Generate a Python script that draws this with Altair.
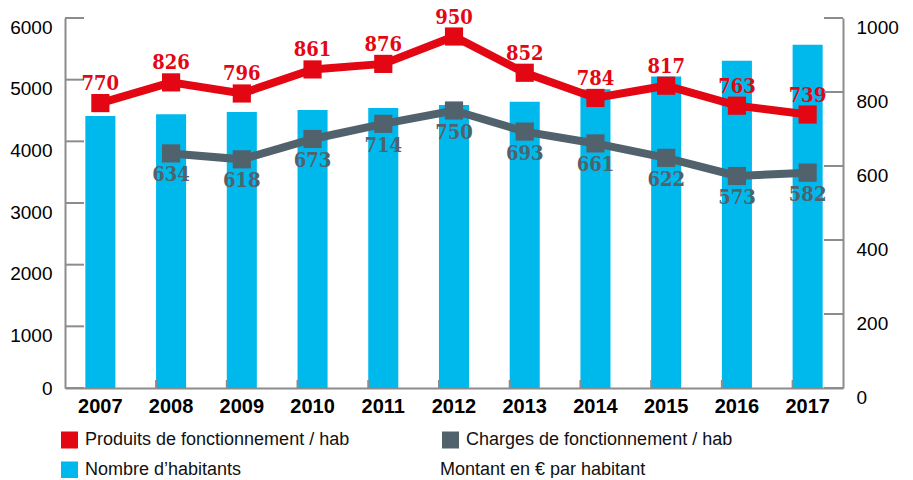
import altair as alt
import pandas as pd

years = ["2007", "2008", "2009", "2010", "2011", "2012", "2013", "2014", "2015", "2016", "2017"]
habitants = [4410, 4440, 4475, 4510, 4540, 4590, 4640, 4845, 5050, 5305, 5565]
produits = [770, 826, 796, 861, 876, 950, 852, 784, 817, 763, 739]
charges = [None, 634, 618, 673, 714, 750, 693, 661, 622, 573, 582]
left_ticks = [0, 1000, 2000, 3000, 4000, 5000, 6000]
right_ticks = [0, 200, 400, 600, 800, 1000]
series_names = ["Produits de fonctionnement / hab", "Charges de fonctionnement / hab"]
bar_name = "Nombre d\u2019habitants"
note = "Montant en \u20ac par habitant"

RED = "#E30613"
GREY = "#52626C"
BLUE = "#00B9EC"
AXIS = "#8C8C8C"
FONT = "Liberation Sans"
VFONT = "DejaVu Serif Condensed"

bars_df = pd.DataFrame({"year": years, "habitants": habitants})
rows = []
for y, p, c in zip(years, produits, charges):
    rows.append({"year": y, "series": series_names[0], "value": p})
    if c is not None:
        rows.append({"year": y, "series": series_names[1], "value": c})
lines_df = pd.DataFrame(rows)

X = alt.X(
    "year:N",
    sort=years,
    scale=alt.Scale(paddingInner=0.575, paddingOuter=0.2875),
    axis=alt.Axis(title=None, labelFont=FONT, labelFontWeight="bold", labelFontSize=20,
                  labelColor="black", labelAngle=0, labelPadding=8, ticks=False,
                  domainColor=AXIS, domainWidth=2, grid=False),
)

YL = alt.Y(
    "habitants:Q",
    scale=alt.Scale(domain=[0, 6000], nice=False),
    axis=alt.Axis(title=None, orient="left", values=left_ticks, format="d", ticks=False, grid=False,
                  domainColor=AXIS, domainWidth=2, labelFont=FONT, labelFontSize=19,
                  labelColor="black", labelPadding=13, labelBaseline="top",
                  labelOffset={"condition": {"test": "datum.value == 0", "value": -9}, "value": 0}),
)

YR = alt.Y(
    "value:Q",
    scale=alt.Scale(domain=[0, 1000], nice=False),
    axis=alt.Axis(title=None, orient="right", values=right_ticks, format="d", ticks=False, grid=False,
                  domainColor=AXIS, domainWidth=2, labelFont=FONT, labelFontSize=19,
                  labelColor="black", labelPadding=13, labelBaseline="top"),
)

bars = alt.Chart(bars_df).mark_bar(color=BLUE).encode(x=X, y=YL)

lt_df = pd.DataFrame({"habitants": left_ticks})
left_tick_rules = alt.Chart(lt_df).mark_rule(color=AXIS, strokeWidth=2).encode(
    y=YL, x=alt.value(0), x2=alt.value(19)
)

xt_df = pd.DataFrame({"year": years[1:]})
x_tick_rules = alt.Chart(xt_df).mark_rule(color=AXIS, strokeWidth=2).encode(
    x=alt.X("year:N", sort=years, bandPosition=0), y=alt.value(370), y2=alt.value(362)
)

left_group = alt.layer(bars, left_tick_rules, x_tick_rules)

color = alt.Color("series:N", scale=alt.Scale(domain=series_names, range=[RED, GREY]), legend=None)
base = alt.Chart(lines_df)
lines = base.mark_line(strokeWidth=8).encode(x=X, y=YR, color=color)
points = base.mark_square(size=330, opacity=1).encode(x=X, y=YR, color=color)
lab_top = base.transform_filter(alt.datum.series == series_names[0]).mark_text(
    font=VFONT, fontWeight="bold", fontSize=20, color=RED, dy=-19, baseline="middle"
).encode(x=X, y=YR, text="value:Q")
lab_bot = base.transform_filter(alt.datum.series == series_names[1]).mark_text(
    font=VFONT, fontWeight="bold", fontSize=20, color=GREY, dy=22, baseline="middle"
).encode(x=X, y=YR, text="value:Q")

rt_df = pd.DataFrame({"value": right_ticks})
right_tick_rules = alt.Chart(rt_df).mark_rule(color=AXIS, strokeWidth=2).encode(
    y=YR, x=alt.value(759), x2=alt.value(778)
)

right_group = alt.layer(lines, points, lab_top, lab_bot, right_tick_rules)


def legend_item(label, col, sx, tx, y):
    d = pd.DataFrame({"label": [label]})
    layers = []
    if col is not None:
        layers.append(alt.Chart(d).mark_square(size=289, color=col, opacity=1).encode(
            x=alt.value(sx), y=alt.value(y)))
    layers.append(alt.Chart(d).mark_text(font=FONT, fontSize=18, color="#111111", align="left",
                                         baseline="middle").encode(
        text="label:N", x=alt.value(tx), y=alt.value(y)))
    return layers


legend_layers = []
legend_layers += legend_item(series_names[0], RED, 4.5, 20, 422)
legend_layers += legend_item(series_names[1], GREY, 385.5, 401, 422)
legend_layers += legend_item(bar_name, BLUE, 4.5, 20, 452)
legend_layers += legend_item(note, None, 0, 375, 452)

chart = alt.layer(left_group, right_group, *legend_layers).resolve_scale(
    y="independent", color="independent"
).properties(
    width=778,
    height=370,
    padding={"left": 57, "top": 10, "right": 62, "bottom": 90},
    autosize=alt.AutoSizeParams(type="none"),
).configure_view(stroke=None)

chart.save("out.html", embed_options={"renderer": "svg", "actions": False})
